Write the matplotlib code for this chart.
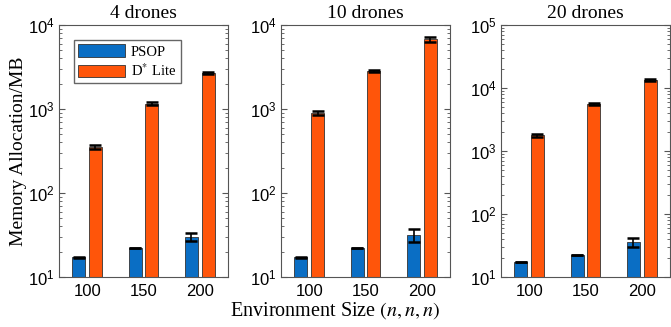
import numpy as np
import matplotlib
matplotlib.use("Agg")
import matplotlib.pyplot as plt

# =========================
# Data
# =========================

SIZES = ["100", "150", "200"]
PANEL_TITLES = ["4 drones", "10 drones", "20 drones"]

psop_mean = [
    [17.1, 22.1, 30.0],
    [17.1, 22.1, 31.5],
    [17.2, 22.2, 35.5],
]
psop_err = [
    [0.2, 0.2, 3.0],
    [0.2, 0.2, 5.5],
    [0.2, 0.2, 6.0],
]
dlite_mean = [
    [356, 1160, 2690],
    [890, 2830, 6760],
    [1770, 5520, 13500],
]
dlite_err = [
    [18, 40, 70],
    [50, 80, 450],
    [110, 180, 600],
]
YLIMS = [(10, 1e4), (10, 1e4), (10, 1e5)]

BLUE = "#0A6EC4"
ORANGE = "#FF550A"

plt.rcParams["font.family"] = ["Liberation Sans", "DejaVu Sans"]
plt.rcParams["mathtext.fontset"] = "stix"
SERIF = ["Liberation Serif", "DejaVu Serif"]

fig = plt.figure(figsize=(6.71, 3.27), dpi=100)

lefts = [0.0879, 0.4188, 0.7466]
bottom, width, height = 0.153, 0.2519, 0.7706

x = np.arange(1, len(SIZES) + 1)
bw = 0.235
off = 0.148

for i in range(3):
    ax = fig.add_axes([lefts[i], bottom, width, height])
    ax.set_yscale("log")
    b1 = ax.bar(x - off, psop_mean[i], bw, color=BLUE, edgecolor="#333333",
                linewidth=0.6, label="PSOP", zorder=2)
    b2 = ax.bar(x + off, dlite_mean[i], bw, color=ORANGE, edgecolor="#333333",
                linewidth=0.6, label="D$^{*}$ Lite", zorder=2)
    ax.errorbar(x - off, psop_mean[i], yerr=psop_err[i], fmt="none",
                ecolor="black", elinewidth=1.2, capsize=4.3, capthick=1.8, zorder=3)
    ax.errorbar(x + off, dlite_mean[i], yerr=dlite_err[i], fmt="none",
                ecolor="black", elinewidth=1.2, capsize=4.3, capthick=1.8, zorder=3)

    ax.set_xlim(0.5, 3.5)
    ax.set_ylim(*YLIMS[i])
    ax.set_xticks(x)
    ax.set_xticklabels(SIZES)
    ax.tick_params(which="both", direction="in", top=False, right=True,
                   color="#555555", labelsize=12)
    ax.tick_params(which="major", length=4)
    ax.tick_params(which="minor", length=2)
    ax.tick_params(axis="x", which="both", length=0, pad=5)
    ax.tick_params(axis="y", pad=3)
    for sp in ax.spines.values():
        sp.set_color("#555555")
        sp.set_linewidth(0.8)
    ax.set_title(PANEL_TITLES[i], fontsize=14, family=SERIF, pad=5)

    if i == 0:
        ax.set_ylabel("Memory Allocation/MB", fontsize=14, family=SERIF, labelpad=1)
        ax.legend(handles=[b1, b2], loc="upper left",
                  bbox_to_anchor=(0.089, 0.94), prop={"family": SERIF, "size": 10.5},
                  fancybox=False, edgecolor="#666666", framealpha=1,
                  handlelength=3.2, handleheight=0.9, borderpad=0.3,
                  labelspacing=0.25, handletextpad=0.4, borderaxespad=0)

fig.text(0.5, 0.049, "Environment Size $(n, n, n)$", ha="center", va="center",
         fontsize=14.5, family=SERIF)

fig.savefig("out.png", dpi=100)
